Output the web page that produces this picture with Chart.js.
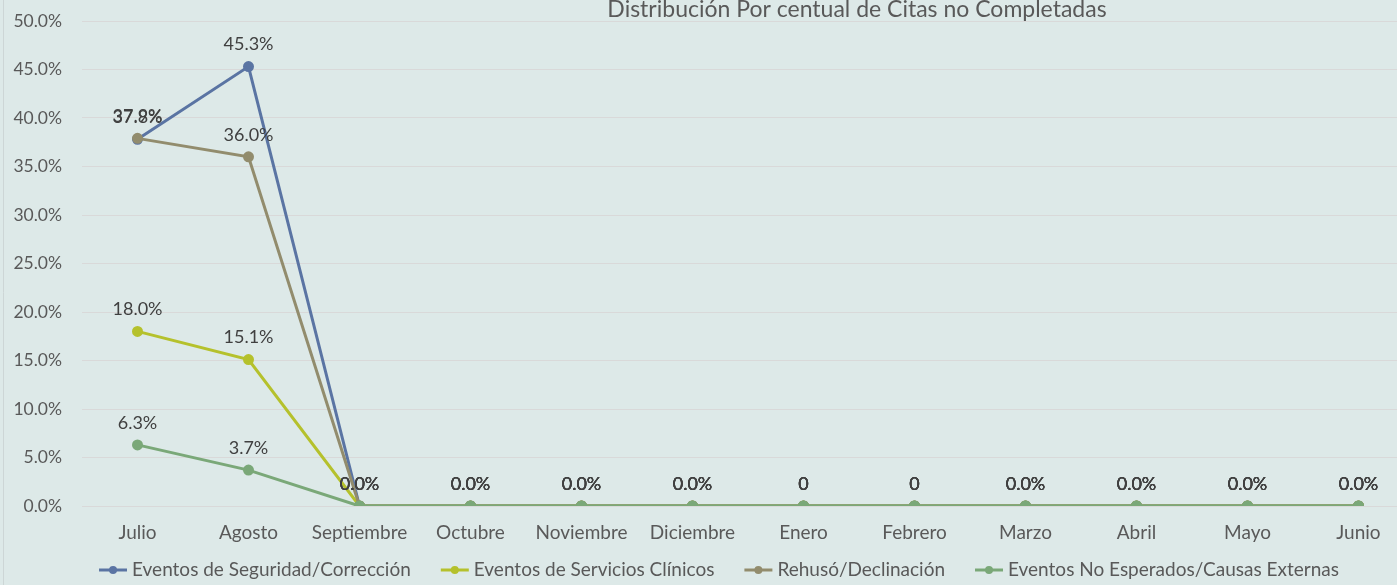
<!DOCTYPE html>
<html><head><meta charset="utf-8">
<script src="https://cdn.jsdelivr.net/npm/chart.js@4/dist/chart.umd.min.js"></script>
<style>
html,body{margin:0;padding:0;overflow:hidden;background:#dde9e8;}
#wrap{width:1472px;height:585px;position:relative;}
</style>
</head><body><div id="wrap"><canvas id="c" width="1472" height="585"></canvas></div>
<script>
const months = ['Julio','Agosto','Septiembre','Octubre','Noviembre','Diciembre','Enero','Febrero','Marzo','Abril','Mayo','Junio'];
const seguridad   = [37.8, 45.3, 0, 0, 0, 0, 0, 0, 0, 0, 0, 0];
const servicios   = [18.0, 15.1, 0, 0, 0, 0, 0, 0, 0, 0, 0, 0];
const rehuso      = [37.9, 36.0, 0, 0, 0, 0, 0, 0, 0, 0, 0, 0];
const noEsperados = [6.3, 3.7, 0, 0, 0, 0, 0, 0, 0, 0, 0, 0];
const seriesNames = ['Eventos de Seguridad/Corrección','Eventos de Servicios Clínicos','Rehusó/Declinación','Eventos No Esperados/Causas Externas'];
const labelKinds = ['pct','pct','pct','pct','pct','pct','raw','raw','pct','pct','pct','pct'];
const yMin = 0, yMax = 50, yStep = 5;
const titleText = 'Distribución Por centual de Citas no Completadas';

const colors = ['#5a74a3','#b5c12c','#928c6d','#7aa878'];
const FONT = 'Lato, "Open Sans", sans-serif';
const TXT = '#595959';

function fmtLabel(v, i){ return labelKinds[i] === 'raw' ? String(Math.round(v)) : v.toFixed(1) + '%'; }

const extras = {
  id: 'extras',
  beforeDraw(chart){
    const ctx = chart.ctx;
    ctx.save();
    ctx.fillStyle = '#dde9e8';
    ctx.fillRect(0,0,chart.width,chart.height);
    ctx.strokeStyle = '#cdd6d6'; ctx.lineWidth = 1;
    ctx.beginPath(); ctx.moveTo(3.5,0); ctx.lineTo(3.5,chart.height); ctx.stroke();
    ctx.restore();
  },
  afterDatasetsDraw(chart){
    const ctx = chart.ctx;
    ctx.save();
    ctx.font = '18px ' + FONT;
    ctx.fillStyle = '#404040';
    ctx.textAlign = 'center'; ctx.textBaseline = 'middle';
    chart.data.datasets.forEach((ds, di) => {
      const meta = chart.getDatasetMeta(di);
      meta.data.forEach((pt, i) => {
        ctx.fillText(fmtLabel(ds.data[i], i), pt.x, pt.y - 22);
      });
    });
    // title
    ctx.font = '23px ' + FONT;
    ctx.fillStyle = TXT;
    ctx.fillText(titleText, 857, 10);
    // legend
    ctx.font = '19px ' + FONT;
    const lineW = 28, gapTxt = 5, gapItem = 30;
    const widths = seriesNames.map(n => lineW + gapTxt + ctx.measureText(n).width);
    const total = widths.reduce((a,b)=>a+b,0) + gapItem*(widths.length-1);
    let x = 719 - total/2; const y = 570;
    seriesNames.forEach((n, k) => {
      ctx.strokeStyle = colors[k]; ctx.lineWidth = 3;
      ctx.beginPath(); ctx.moveTo(x, y); ctx.lineTo(x+lineW, y); ctx.stroke();
      ctx.fillStyle = colors[k];
      ctx.beginPath(); ctx.arc(x+lineW/2, y, 4, 0, Math.PI*2); ctx.fill();
      ctx.fillStyle = TXT; ctx.textAlign = 'left';
      ctx.fillText(n, x+lineW+gapTxt, y);
      x += widths[k] + gapItem;
    });
    ctx.restore();
  }
};

const series = [seguridad, servicios, rehuso, noEsperados];
new Chart(document.getElementById('c'), {
  type: 'line',
  data: {
    labels: months,
    datasets: series.map((d, k) => ({
      label: seriesNames[k], data: d,
      borderColor: colors[k], backgroundColor: colors[k],
      pointBackgroundColor: colors[k], pointBorderColor: colors[k],
      borderWidth: 3, pointRadius: 4, pointHoverRadius: 4,
      tension: 0, order: 4 - k
    }))
  },
  options: {
    responsive: false, animation: false,
    layout: { padding: { top: 21, right: 58, bottom: 0, left: 0 } },
    plugins: { legend: { display: false }, title: { display: false }, tooltip: { enabled: false } },
    scales: {
      x: {
        offset: true,
        grid: { display: false, drawTicks: false },
        border: { display: false },
        ticks: { color: TXT, font: { family: FONT, size: 19 }, padding: 15, maxRotation: 0, autoSkip: false },
        afterFit(s){ s.height = 79; s.paddingLeft = 0; s.paddingRight = 0; }
      },
      y: {
        min: yMin, max: yMax,
        grid: { color: '#d9d9d9', drawTicks: false, lineWidth: 1 },
        border: { display: false },
        ticks: { stepSize: yStep, color: TXT, font: { family: FONT, size: 17.5 }, padding: 20,
                 callback: v => v.toFixed(1) + '%' },
        afterFit(s){ s.width = 82; s.paddingTop = 0; s.paddingBottom = 0; }
      }
    }
  },
  plugins: [extras]
});
</script>
</body></html>
